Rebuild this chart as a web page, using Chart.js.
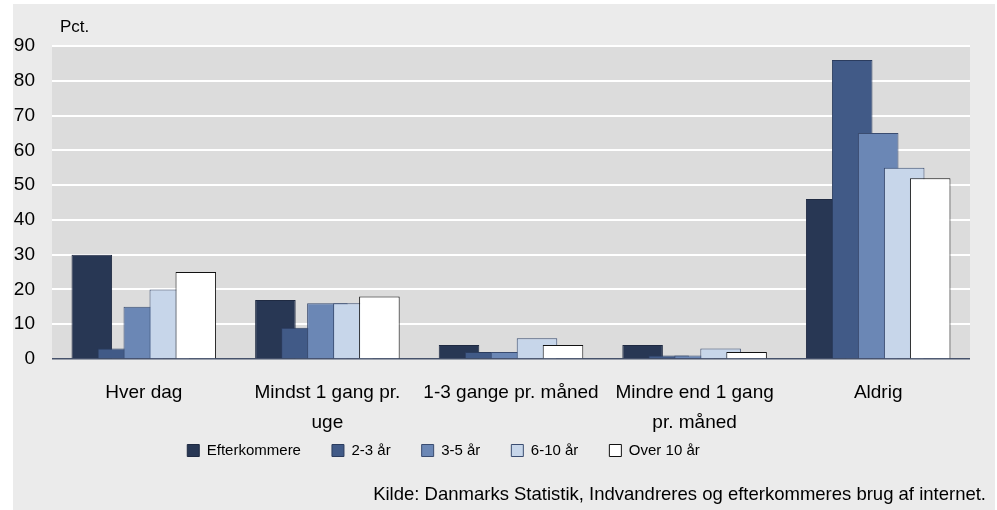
<!DOCTYPE html>
<html>
<head>
<meta charset="utf-8">
<script src="https://cdn.jsdelivr.net/npm/chart.js"></script>
<style>
  html, body { margin: 0; padding: 0; background: #fff; }
  #wrap { position: absolute; left: 13px; top: 4px; width: 982px; height: 506px; background: #ebebeb; }
</style>
</head>
<body>
<div id="wrap"><canvas id="chart"></canvas></div>
<script>
// data
const categories = [
  'Hver dag',
  ['Mindst 1 gang pr.', 'uge'],
  '1-3 gange pr. måned',
  ['Mindre end 1 gang', 'pr. måned'],
  'Aldrig'
];
const seriesNames = ['Efterkommere', '2-3 år', '3-5 år', '6-10 år', 'Over 10 år'];
const efterkommere = [30, 17, 4, 4, 46];
const aar2til3 = [3, 9, 2, 1, 86];
const aar3til5 = [15, 16, 2, 1, 65];
const aar6til10 = [20, 16, 6, 3, 55];
const over10 = [25, 18, 4, 2, 52];
const yMin = 0, yMax = 90, yStep = 10;
const unitLabel = 'Pct.';
const sourceText = 'Kilde: Danmarks Statistik, Indvandreres og efterkommeres brug af internet.';

const FONT = "'Liberation Sans', Arial, sans-serif";
const fills = ['#283754', '#415a87', '#6b87b5', '#c7d6ea', '#ffffff'];
const borders = ['#1f2a42', '#2b3c5e', '#3a4c70', '#3a4c70', '#111111'];
const LEGEND_DX = -48, LEGEND_DY = -27;

const values = [efterkommere, aar2til3, aar3til5, aar6til10, over10];

// grå plotflade
const plotBg = {
  id: 'plotBg',
  beforeDraw(chart) {
    const a = chart.chartArea, ctx = chart.ctx;
    ctx.save();
    ctx.fillStyle = '#dcdcdc';
    ctx.fillRect(a.left, a.top, a.right - a.left, a.bottom - a.top);
    ctx.restore();
  }
};

// senere serier tegnes oven på de tidligere (overlap som i Excel)
const drawOrder = {
  id: 'drawOrder',
  beforeDatasetsDraw(chart) {
    for (let i = 0; i < chart.data.datasets.length; i++) {
      chart.getDatasetMeta(i).controller.draw();
    }
    return false;
  }
};

// flyt legenden (boksen udvides symmetrisk, så intet klippes)
const legendShift = {
  id: 'legendShift',
  afterLayout(chart) {
    const lg = chart.legend;
    lg.left += LEGEND_DX - 200; lg.right += LEGEND_DX + 200;
    lg.top += LEGEND_DY; lg.bottom += LEGEND_DY;
  }
};

const notes = {
  id: 'notes',
  afterDraw(chart) {
    const ctx = chart.ctx, a = chart.chartArea;
    ctx.save();
    ctx.fillStyle = '#000';
    ctx.font = '17px ' + FONT;
    ctx.textBaseline = 'middle';
    ctx.textAlign = 'left';
    ctx.fillText(unitLabel, a.left + 8, 23);
    ctx.font = '18.5px ' + FONT;
    ctx.textAlign = 'right';
    ctx.fillText(sourceText, chart.width - 9, 491);
    ctx.restore();
  }
};

new Chart(document.getElementById('chart'), {
  type: 'bar',
  data: {
    labels: categories,
    datasets: seriesNames.map((name, i) => ({
      label: name,
      data: values[i],
      backgroundColor: fills[i],
      borderColor: borders[i],
      borderWidth: 1,
      categoryPercentage: 0.708,
      barPercentage: 1.56
    }))
  },
  options: {
    responsive: true,
    maintainAspectRatio: false,
    animation: false,
    layout: { padding: { top: 42, right: 25, bottom: 15, left: 0 } },
    scales: {
      x: {
        afterFit(scale) { scale.height = 80; },
        grid: { display: false, drawTicks: false },
        border: { display: false },
        ticks: {
          color: '#000',
          font: { family: FONT, size: 19, lineHeight: 1.58 },
          padding: 19,
          maxRotation: 0,
          autoSkip: false
        }
      },
      y: {
        min: yMin,
        max: yMax,
        afterFit(scale) { scale.width = 39; },
        grid: {
          drawTicks: false,
          color: c => c.tick && c.tick.value === 0 ? '#46526b' : '#ffffff',
          lineWidth: c => c.tick && c.tick.value === 0 ? 1.5 : 2
        },
        border: { display: false },
        ticks: {
          stepSize: yStep,
          color: '#000',
          padding: 17,
          font: { family: FONT, size: 19 }
        }
      }
    },
    plugins: {
      legend: {
        position: 'bottom',
        labels: {
          color: '#000',
          font: { family: FONT, size: 15 },
          boxWidth: 12,
          boxHeight: 12,
          padding: 31
        }
      },
      tooltip: { enabled: false }
    }
  },
  plugins: [plotBg, drawOrder, legendShift, notes]
});
</script>
</body>
</html>
